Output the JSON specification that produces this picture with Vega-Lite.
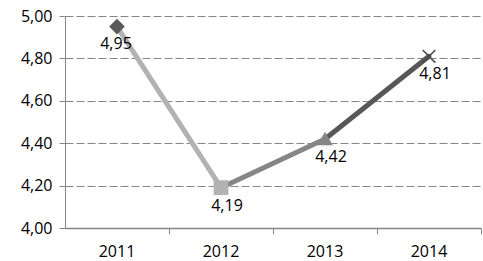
{
  "$schema": "https://vega.github.io/schema/vega-lite/v6.json",
  "width": 416,
  "height": 212,
  "autosize": "none",
  "padding": {"left": 65, "top": 16, "right": 2, "bottom": 33},
  "background": "white",
  "config": {
    "view": {"stroke": null},
    "font": "Open Sans",
    "locale": {"number": {"decimal": ",", "thousands": ".", "grouping": [3], "currency": ["", " €"]}},
    "axis": {"labelFont": "Open Sans", "labelFontSize": 16, "labelColor": "#000000", "domainColor": "#868686", "tickColor": "#868686", "tickSize": 6, "title": null}
  },
  "data": {
    "values": [
      {"year": "2011", "value": 4.95},
      {"year": "2012", "value": 4.19},
      {"year": "2013", "value": 4.42},
      {"year": "2014", "value": 4.81}
    ]
  },
  "encoding": {
    "x": {
      "field": "year", "type": "ordinal",
      "scale": {"type": "band", "paddingInner": 0, "paddingOuter": 0},
      "axis": {"labelAngle": 0, "bandPosition": 1, "labelPadding": 9, "grid": false, "domainWidth": 1.3}
    },
    "y": {
      "field": "value", "type": "quantitative",
      "scale": {"domain": [4, 5], "nice": false, "zero": false},
      "axis": {"values": [4, 4.2, 4.4, 4.6, 4.8, 5], "format": ".2f", "labelPadding": 7, "grid": true, "gridColor": "#868686", "gridDash": [8, 3], "gridWidth": 1.2}
    }
  },
  "layer": [
    {
      "transform": [
        {"window": [{"op": "lead", "field": "year", "as": "nextYear"}, {"op": "lead", "field": "value", "as": "nextValue"}], "sort": [{"field": "year"}]},
        {"filter": "datum.nextYear != null"}
      ],
      "mark": {"type": "rule", "strokeWidth": 5, "strokeCap": "round"},
      "encoding": {
        "x": {"field": "year", "type": "ordinal", "bandPosition": 0.5},
        "x2": {"field": "nextYear", "bandPosition": 0.5},
        "y": {"field": "value", "type": "quantitative"},
        "y2": {"field": "nextValue"},
        "color": {"field": "nextYear", "type": "nominal", "scale": {"domain": ["2012", "2013", "2014"], "range": ["#b2b2b2", "#868686", "#575757"]}, "legend": null}
      }
    },
    {
      "mark": {"type": "point", "filled": true, "strokeWidth": 1.6, "opacity": 1},
      "encoding": {
        "shape": {"field": "year", "type": "nominal", "scale": {"domain": ["2011", "2012", "2013", "2014"], "range": ["diamond", "square", "triangle-up", "M-1,-1L1,1M-1,1L1,-1"]}, "legend": null},
        "size": {"field": "year", "type": "nominal", "scale": {"domain": ["2011", "2012", "2013", "2014"], "range": [180, 160, 240, 160]}, "legend": null},
        "fill": {"field": "year", "type": "nominal", "scale": {"domain": ["2011", "2012", "2013", "2014"], "range": ["#5a5a5a", "#b2b2b2", "#868686", "#4d4d4d"]}, "legend": null},
        "stroke": {"field": "year", "type": "nominal", "scale": {"domain": ["2011", "2012", "2013", "2014"], "range": ["#5a5a5a", "#b2b2b2", "#868686", "#4d4d4d"]}, "legend": null}
      }
    },
    {
      "transform": [{"filter": "datum.year == '2011'"}],
      "mark": {"type": "text", "fontSize": 16, "font": "Open Sans", "color": "#000000", "dx": -1, "dy": 17, "align": "center", "baseline": "middle"},
      "encoding": {
        "text": {"field": "value", "type": "quantitative", "format": ".2f"}
      }
    },
    {
      "transform": [{"filter": "datum.year != '2011'"}],
      "mark": {"type": "text", "fontSize": 16, "font": "Open Sans", "color": "#000000", "dx": 6, "dy": 18, "align": "center", "baseline": "middle"},
      "encoding": {
        "text": {"field": "value", "type": "quantitative", "format": ".2f"}
      }
    }
  ]
}
